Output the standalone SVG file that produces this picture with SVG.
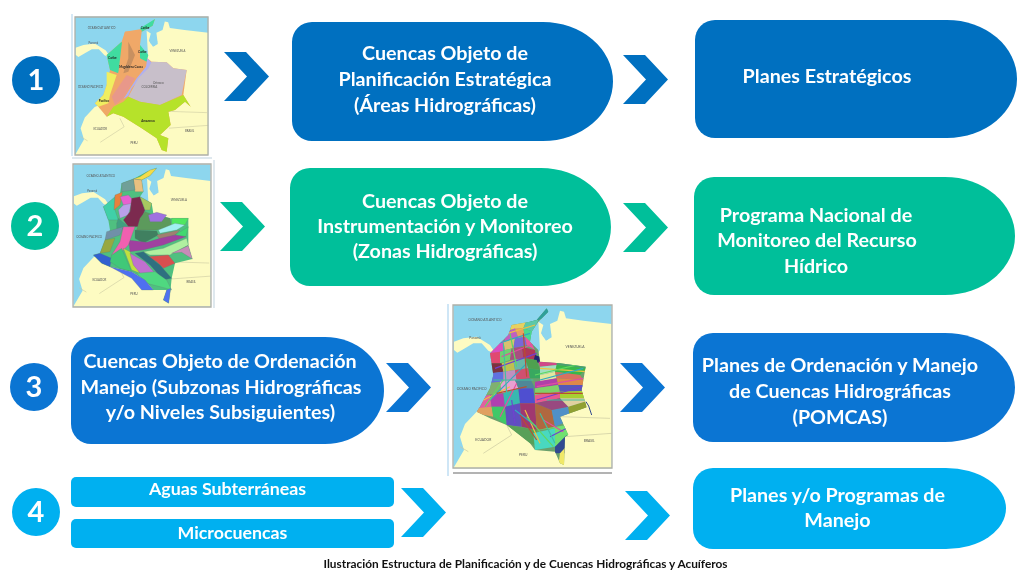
<svg xmlns="http://www.w3.org/2000/svg" width="1024" height="580" viewBox="0 0 1024 580">
<style>
text{font-family:Lato,"Open Sans",Arial,sans-serif;font-weight:700}
.t{fill:#fff;font-size:19.7px;text-anchor:middle}
.n{fill:#fff;font-size:29px;text-anchor:middle}
.s{fill:#fff;font-size:17.8px;text-anchor:middle}
.cap{fill:#111;font-size:11.83px;text-anchor:middle}
.ml{fill:#555;font-size:10px;text-anchor:middle;font-weight:400}
.mb{fill:#222;font-size:9px;text-anchor:middle;font-weight:700}
.blue{fill:#0070c0}.green{fill:#00bf9a}.mid{fill:#0b75d3}.sky{fill:#00b0f0}
.frame{fill:none;stroke:#aeb0a8;stroke-width:1.3}
.bord{fill:none;stroke:#c9c7a0;stroke-width:2}
.fine{fill:none;stroke-width:3.5}
</style>
<defs>
<filter id="soft" x="-5%" y="-5%" width="110%" height="110%"><feGaussianBlur stdDeviation="0.45"/></filter>
<polygon id="chev" points="0,0 22,0 45,24.500 22,49 0,49 23,24.500"/>
<clipPath id="col3"><path d="M320,25L290,60L270,65L215,75L205,105L180,130L150,160L160,225L150,265L120,320L110,335L150,355L200,375L270,430L285,450L345,455L360,490L372,495L375,410L385,405L360,350L440,322L425,270L437,200L360,190L300,185L295,150L270,125L275,95L295,65L325,35Z"/></clipPath>
<g id="base">
<rect x="40" y="15" width="475" height="490" fill="#8dd6ee"/>
<path fill="#fdfbc2" d="M295,65L310,75L303,100L318,122L335,112L330,72L352,62L360,32L372,35L378,55L430,62L515,72L515,505L40,505L72,450L60,410L75,372L110,335L200,300L300,150Z"/>
<path fill="#fdfbc2" d="M42,125L70,115L110,110L150,135L168,162L145,152L125,130L100,130L75,145L52,158L42,150Z"/>
<path fill="#8dd6ee" d="M308,90L322,82L334,105L322,120L308,108Z"/>
<path class="bord" d="M200,375L215,405L130,460M360,350L510,355M375,410L515,400M60,440L85,455"/>
</g>
</defs>

<g id="connectors">
<use href="#chev" x="224" y="52" class="blue"/>
<use href="#chev" x="623" y="55" class="blue"/>
<use href="#chev" x="220" y="202" class="green"/>
<use href="#chev" x="623" y="203" class="green"/>
<use href="#chev" x="386" y="363" class="mid"/>
<use href="#chev" x="620" y="363" class="mid"/>
<use href="#chev" x="401" y="488" class="sky"/>
<use href="#chev" x="625" y="491" class="sky"/>
</g>

<g id="map1">
<path d="M72,14V156" stroke="#d5e8f5" stroke-width="2" fill="none"/>
<g filter="url(#soft)">
<g transform="matrix(.2807,0,0,.2823,63.770,12.430)"><use href="#base"/>
<text class="ml" x="135" y="58">OCEANO ATLANTICO</text><text class="ml" x="105" y="112">Panamá</text><text class="ml" x="405" y="140">VENEZUELA</text><text class="ml" x="95" y="268">OCEANO PACIFICO</text><text class="ml" x="130" y="418">ECUADOR</text><text class="ml" x="250" y="465">PERU</text><text class="ml" x="448" y="422">BRASIL</text>
</g>
<g transform="translate(60,5) scale(.33333)">
<path fill="#f0a868" d="M285,42L245,72L195,80L185,110L140,150L150,195L140,240L130,270L105,295L115,305L140,335L160,325L190,335L245,370L290,400L305,435L320,440L325,400L300,390L332,360L325,320L345,315L375,290L392,305L370,270L380,195L340,190L320,172L275,170L262,160L240,120L245,80L278,62Z"/>
<path fill="#3fdca0" d="M240,70L285,42L278,62L245,80ZM185,110L140,150L150,195L175,205L190,150ZM240,120L265,150L260,170L240,160Z"/>
<path fill="#f0ee60" d="M140,200L170,210L150,270L145,295L115,305L105,295L130,270L140,240Z"/>
<path fill="#b0b0f0" d="M262,160L277,175L250,210L215,250L205,272L190,282L230,220L258,185Z"/>
<path fill="#c8bfca" d="M275,170L320,172L340,190L380,195L365,270L300,300L240,290L205,275L235,220L265,190Z"/>
<path fill="#b6e22a" d="M205,275L240,290L300,300L370,270L392,305L375,290L345,315L325,320L332,360L300,390L325,400L320,440L305,435L290,400L245,370L190,335L160,325L140,335L160,305L190,290Z"/>
<path fill="#f0a868" d="M195,80L245,75L235,120L240,160L255,180L225,220L190,280L165,300L150,280L175,205L185,120Z"/>
<path fill="#e8988a" d="M200,210L225,220L190,280L165,300L155,275Z"/>
<path fill="#c89060" d="M205,110L225,150L205,200L190,205L205,160Z"/>
<text class="mb" x="255" y="73">Caribe</text><text class="mb" x="157" y="163">Caribe</text><text class="mb" x="247" y="145">Caribe</text><text class="mb" x="213" y="188">Magdalena Cauca</text><text class="ml" style="font-size:9px" x="295" y="238">Orinoco</text><text class="ml" style="font-size:9px" x="268" y="250">COLOMBIA</text><text class="mb" x="132" y="291">Pacífico</text><text class="mb" x="264" y="352">Amazonas</text>
</g></g>
<path class="frame" d="M75,17H208V155H75Z"/>
</g>

<g id="map2">
<path d="M72,158H212M214,160V308" stroke="#dfe8ee" stroke-width="2" fill="none"/>
<g filter="url(#soft)">
<g transform="matrix(.289,0,0,.2904,61.770,159.970)"><use href="#base"/>
<text class="ml" x="135" y="58">OCEANO ATLANTICO</text><text class="ml" x="105" y="112">Panamá</text><text class="ml" x="405" y="140">VENEZUELA</text><text class="ml" x="95" y="268">OCEANO PACIFICO</text><text class="ml" x="130" y="418">ECUADOR</text><text class="ml" x="250" y="465">PERU</text><text class="ml" x="448" y="422">BRASIL</text>
</g>
<g transform="translate(60,155) scale(.33333)">
<path fill="#50c080" d="M290,38L260,50L220,72L185,85L180,115L130,155L145,195L150,225L135,255L120,295L100,300L125,325L150,335L215,350L255,375L280,405L320,405L310,435L326,445L332,400L335,370L345,325L397,312L385,272L385,215L385,190L330,190L280,175L275,145L240,125L250,110L245,75L270,62Z"/>
<g stroke="#5a7a70" stroke-width=".8">
<path fill="#f4dc4a" d="M290,40L270,45L240,65L220,72L245,75L270,62Z"/>
<path fill="#e8c080" d="M220,72L245,75L250,110L225,110Z"/>
<path fill="#6f9f98" d="M185,85L220,72L225,105L185,110Z"/>
<path fill="#40d0a8" d="M165,125L130,155L145,195L175,195L165,165Z"/>
<path fill="#e8803c" d="M165,120L187,112L180,150L162,165Z"/>
<path fill="#e860d0" d="M180,125L205,120L225,140L215,150L190,150Z"/>
<path fill="#b9a0e8" d="M175,165L190,150L215,145L205,180L180,190Z"/>
<path fill="#7c2c50" d="M215,130L240,125L255,165L235,215L205,215L190,195L210,170Z"/>
<path fill="#a8c860" d="M240,125L275,145L270,165L255,165Z"/>
<path fill="#5c9a5c" d="M255,170L280,180L330,190L335,215L290,225L230,225L240,190Z"/>
<path fill="#a070e0" d="M265,180L290,172L320,180L305,200L270,200Z"/>
<path fill="#50e860" d="M335,190L385,190L375,210L335,215Z"/>
<path fill="#a0f0f0" d="M295,225L345,205L375,210L350,225L300,235Z"/>
<path fill="#3f8060" d="M225,225L290,228L295,240L250,265L225,250Z"/>
<path fill="#a08070" d="M290,240L345,228L360,225L345,240L300,255Z"/>
<path fill="#40d870" d="M345,240L385,215L378,245Z"/>
<path fill="#a040a0" d="M205,255L260,262L300,250L345,240L378,245L310,270L250,285L210,290Z"/>
<path fill="#b0f0a0" d="M250,290L310,280L380,250L385,270L330,300L270,300Z"/>
<path fill="#c88ab8" d="M335,295L385,272L397,312L365,292Z"/>
<path fill="#40a080" d="M175,190L205,215L170,230L170,205Z"/>
<path fill="#7090a8" d="M140,230L190,215L180,240L135,255Z"/>
<path fill="#f060b0" d="M190,215L225,215L205,270L170,305L155,300L180,260Z"/>
<path fill="#98a840" d="M135,255L165,250L150,290L120,295Z"/>
<path fill="#3060d0" d="M100,300L120,295L155,310L150,335L125,325Z"/>
<path fill="#40c878" d="M155,300L185,280L215,350L180,340L150,320Z"/>
<path fill="#c0e040" d="M190,280L210,290L240,355L215,345Z"/>
<path fill="#c070d0" d="M210,295L255,320L285,355L245,360L220,330Z"/>
<path fill="#d85050" d="M260,305L325,300L345,325L310,340L290,320Z"/>
<path fill="#2f7080" d="M225,295L250,290L300,330L335,370L310,375L270,330Z"/>
<path fill="#50d880" d="M230,355L285,350L320,375L335,405L300,395L260,385Z"/>
<path fill="#5070f0" d="M150,335L215,350L255,375L280,405L245,405L215,370Z"/>
<path fill="#5070f0" d="M320,405L332,400L326,445L310,435Z"/>
</g></g></g>
<path class="frame" d="M73,164H211V307H73Z"/>
</g>

<g id="map3">
<path d="M448,304V476" stroke="#cfe6f6" stroke-width="2" fill="none"/>
<g filter="url(#soft)">
<g transform="matrix(.33333,0,0,.33333,440,300)"><use href="#base"/>
<text class="ml" x="135" y="62">OCEANO ATLANTICO</text><text class="ml" x="105" y="116">Panamá</text><text class="ml" x="405" y="143">VENEZUELA</text><text class="ml" x="95" y="271">OCEANO PACIFICO</text><text class="ml" x="130" y="422">ECUADOR</text><text class="ml" x="250" y="469">PERU</text><text class="ml" x="448" y="426">BRASIL</text>
<g clip-path="url(#col3)">
<rect x="100" y="20" width="350" height="480" fill="#6aa06c"/>
<g>
<path fill="#2f9f9a" d="M280,20L330,20L320,50L270,70Z"/>
<path fill="#e8d060" d="M215,60L260,60L250,85L205,90Z"/>
<path fill="#5cc8a8" d="M260,60L295,60L280,95L250,85Z"/>
<path fill="#c060c0" d="M190,100L225,85L235,115L195,125Z"/>
<path fill="#e8a060" d="M225,85L250,85L255,110L235,115Z"/>
<path fill="#48d890" d="M250,85L280,95L270,125L255,110Z"/>
<path fill="#d850c0" d="M150,140L190,120L195,150L155,165Z"/>
<path fill="#d8c070" d="M190,125L225,115L220,145L195,150Z"/>
<path fill="#7868d8" d="M225,115L255,110L260,135L220,145Z"/>
<path fill="#e858a0" d="M255,110L272,125L285,150L260,135Z"/>
<path fill="#e04870" d="M145,160L180,155L180,190L155,190Z"/>
<path fill="#70d070" d="M180,155L215,145L210,180L180,190Z"/>
<path fill="#a85080" d="M215,145L245,140L250,175L210,180Z"/>
<path fill="#b03858" d="M245,140L285,150L290,180L250,175Z"/>
<path fill="#202870" d="M285,165L300,170L300,190L280,185Z"/>
<path fill="#7c3040" d="M150,190L185,190L190,215L155,220Z"/>
<path fill="#c0c050" d="M185,190L220,180L225,210L190,215Z"/>
<path fill="#68b8a8" d="M220,180L255,175L265,205L225,210Z"/>
<path fill="#50a050" d="M255,175L290,180L300,210L265,205Z"/>
<path fill="#6070e0" d="M150,220L190,215L190,245L150,250Z"/>
<path fill="#c090c0" d="M190,215L225,210L230,240L190,245Z"/>
<path fill="#d05070" d="M225,210L265,205L270,235L230,240Z"/>
<path fill="#38a860" d="M265,205L300,210L300,235L270,235Z"/>
<path fill="#80b070" d="M140,250L180,245L185,280L135,285Z"/>
<path fill="#e8a0d0" d="M180,245L225,240L235,265L185,280Z"/>
<path fill="#508898" d="M225,240L270,235L285,265L235,265Z"/>
<path fill="#e060a0" d="M105,290L150,285L155,320L110,330Z"/>
<path fill="#b040b0" d="M150,285L190,280L195,320L155,320Z"/>
<path fill="#38b8b0" d="M190,280L235,265L240,310L195,320Z"/>
<path fill="#5050d0" d="M235,265L280,265L285,310L240,310Z"/>
<path fill="#e0a060" d="M110,325L155,320L160,350L105,340Z"/>
<path fill="#40c868" d="M155,320L195,320L200,375L160,350Z"/>
<path fill="#6050c0" d="M195,320L240,310L245,380L200,375Z"/>
<path fill="#a03870" d="M240,310L285,310L290,390L245,380Z"/>
<path fill="#58a058" d="M200,375L290,390L300,440L270,430Z"/>
<path fill="#b06840" d="M285,310L335,330L345,380L290,390Z"/>
<path fill="#48d8c0" d="M280,400L345,385L345,440L285,450Z"/>
<path fill="#70e070" d="M290,390L380,375L385,405L345,440L345,385Z"/>
<path fill="#304890" d="M345,440L380,405L375,460L345,460Z"/>
<path fill="#f0e868" d="M360,460L378,440L375,500L355,495Z"/>
<path fill="#5090c8" d="M335,330L385,320L390,360L345,380Z"/>
<path fill="#90a030" d="M385,320L450,300L440,330L390,360Z"/>
<path fill="#d04888" d="M295,185L350,180L350,195L300,200Z"/>
<path fill="#48a070" d="M350,180L440,195L440,205L350,195Z"/>
<path fill="#a0e0c0" d="M300,200L350,195L345,215L300,225Z"/>
<path fill="#38b848" d="M350,195L440,205L420,225L345,215Z"/>
<path fill="#e0e8a0" d="M300,225L345,215L350,235L300,245Z"/>
<path fill="#d87060" d="M345,215L420,225L430,240L350,235Z"/>
<path fill="#b040a8" d="M285,245L350,235L355,255L285,265Z"/>
<path fill="#e08848" d="M350,235L430,240L430,255L355,255Z"/>
<path fill="#80d068" d="M285,265L355,255L360,275L285,285Z"/>
<path fill="#5858b8" d="M355,255L430,255L440,272L360,275Z"/>
<path fill="#e85890" d="M285,285L360,275L360,295L285,310Z"/>
<path fill="#a8d030" d="M360,275L440,272L440,295L360,295Z"/>
<path fill="#984880" d="M285,310L360,295L385,320L335,330Z"/>
<path fill="#e0d0a0" d="M360,295L440,295L450,300L385,320Z"/>
</g>
<g class="fine">
<path stroke="#f0c040" d="M170,110L285,75M300,205L440,215M120,305L210,260M255,330L300,430"/>
<path stroke="#30a8c0" d="M160,135L270,100M300,240L430,205M150,300L260,190M225,330L290,380"/>
<path stroke="#e050a0" d="M185,170L285,130M290,260L430,235M180,350L230,250M310,360L370,395"/>
<path stroke="#7040d0" d="M165,205L290,160M290,300L440,255M215,300L225,370M330,410L380,385"/>
<path stroke="#60d860" d="M210,100L230,200M285,225L430,190M135,320L190,240M260,350L340,440"/>
<path stroke="#b85030" d="M250,100L260,230M285,280L435,280M170,280L260,260M240,345L290,420"/>
<path stroke="#40c0a0" d="M190,130L200,280M320,300L440,300M160,240L280,240M300,340L345,430"/>
</g></g>
<path d="M438,305L446,318L455,345" stroke="#304890" stroke-width="3" fill="none"/>
</g></g>
<path class="frame" d="M453,305H612V468H453Z"/>
<path d="M453,473H612" stroke="#9a9a9a" stroke-width="1.500" fill="none"/>
</g>

<g id="num1"><circle cx="36" cy="80" r="24" class="blue"/><text class="n" x="36" y="90">1</text></g>
<g id="num2"><circle cx="35" cy="226" r="24" class="green"/><text class="n" x="35" y="236">2</text></g>
<g id="num3"><circle cx="34" cy="387" r="24" class="mid"/><text class="n" x="34" y="397">3</text></g>
<g id="num4"><circle cx="36" cy="512" r="24" class="sky"/><text class="n" x="36" y="522">4</text></g>

<g id="box1"><path class="blue" d="M312,22H543A70,59.500 0 0 1 543,141H312A20,20 0 0 1 292,121V42A20,20 0 0 1 312,22Z"/>
<text class="t" x="445" y="60">Cuencas Objeto de</text><text class="t" x="445" y="86">Planificación Estratégica</text><text class="t" x="445" y="112">(Áreas Hidrográficas)</text></g>
<g id="box2"><path class="blue" d="M715,20H947A70,59 0 0 1 947,138H715A20,20 0 0 1 695,118V40A20,20 0 0 1 715,20Z"/>
<text class="t" x="827" y="83">Planes Estratégicos</text></g>
<g id="box3"><path class="green" d="M310,168H541A70,59 0 0 1 541,286H310A20,20 0 0 1 290,266V188A20,20 0 0 1 310,168Z"/>
<text class="t" x="445" y="208">Cuencas Objeto de</text><text class="t" x="445" y="233">Instrumentación y Monitoreo</text><text class="t" x="445" y="258">(Zonas Hidrográficas)</text></g>
<g id="box4"><path class="green" d="M714,177H945A70,59 0 0 1 945,295H714A20,20 0 0 1 694,275V197A20,20 0 0 1 714,177Z"/>
<text class="t" x="816" y="222">Programa Nacional de</text><text class="t" x="817" y="247">Monitoreo del Recurso</text><text class="t" x="816" y="273">Hídrico</text></g>
<g id="box5"><path class="mid" d="M91,337H325A59,53.500 0 0 1 325,444H91A20,20 0 0 1 71,424V357A20,20 0 0 1 91,337Z"/>
<text class="t" x="220" y="368">Cuencas Objeto de Ordenación</text><text class="t" x="221" y="394">Manejo (Subzonas Hidrográficas</text><text class="t" x="220.500" y="419">y/o Niveles Subsiguientes)</text></g>
<g id="box6"><path class="mid" d="M713,333H945A70,54.500 0 0 1 945,442H713A20,20 0 0 1 693,422V353A20,20 0 0 1 713,333Z"/>
<text class="t" x="840" y="372">Planes de Ordenación y Manejo</text><text class="t" x="840" y="398">de Cuencas Hidrográficas</text><text class="t" x="840" y="424">(POMCAS)</text></g>
<g id="box7"><rect class="sky" x="71" y="477" width="323" height="30" rx="5"/><text class="s" x="227.500" y="495">Aguas Subterráneas</text></g>
<g id="box8"><rect class="sky" x="71" y="519" width="323" height="29" rx="5"/><text class="s" x="232.500" y="539">Microcuencas</text></g>
<g id="box9"><path class="sky" d="M713,468H946A60,40.500 0 0 1 946,549H713A20,20 0 0 1 693,529V488A20,20 0 0 1 713,468Z"/>
<text class="t" x="837.500" y="502">Planes y/o Programas de</text><text class="t" x="837.500" y="527">Manejo</text></g>
<text id="caption" class="cap" x="525.500" y="568">Ilustración Estructura de Planificación y de Cuencas Hidrográficas y Acuíferos</text>
</svg>
